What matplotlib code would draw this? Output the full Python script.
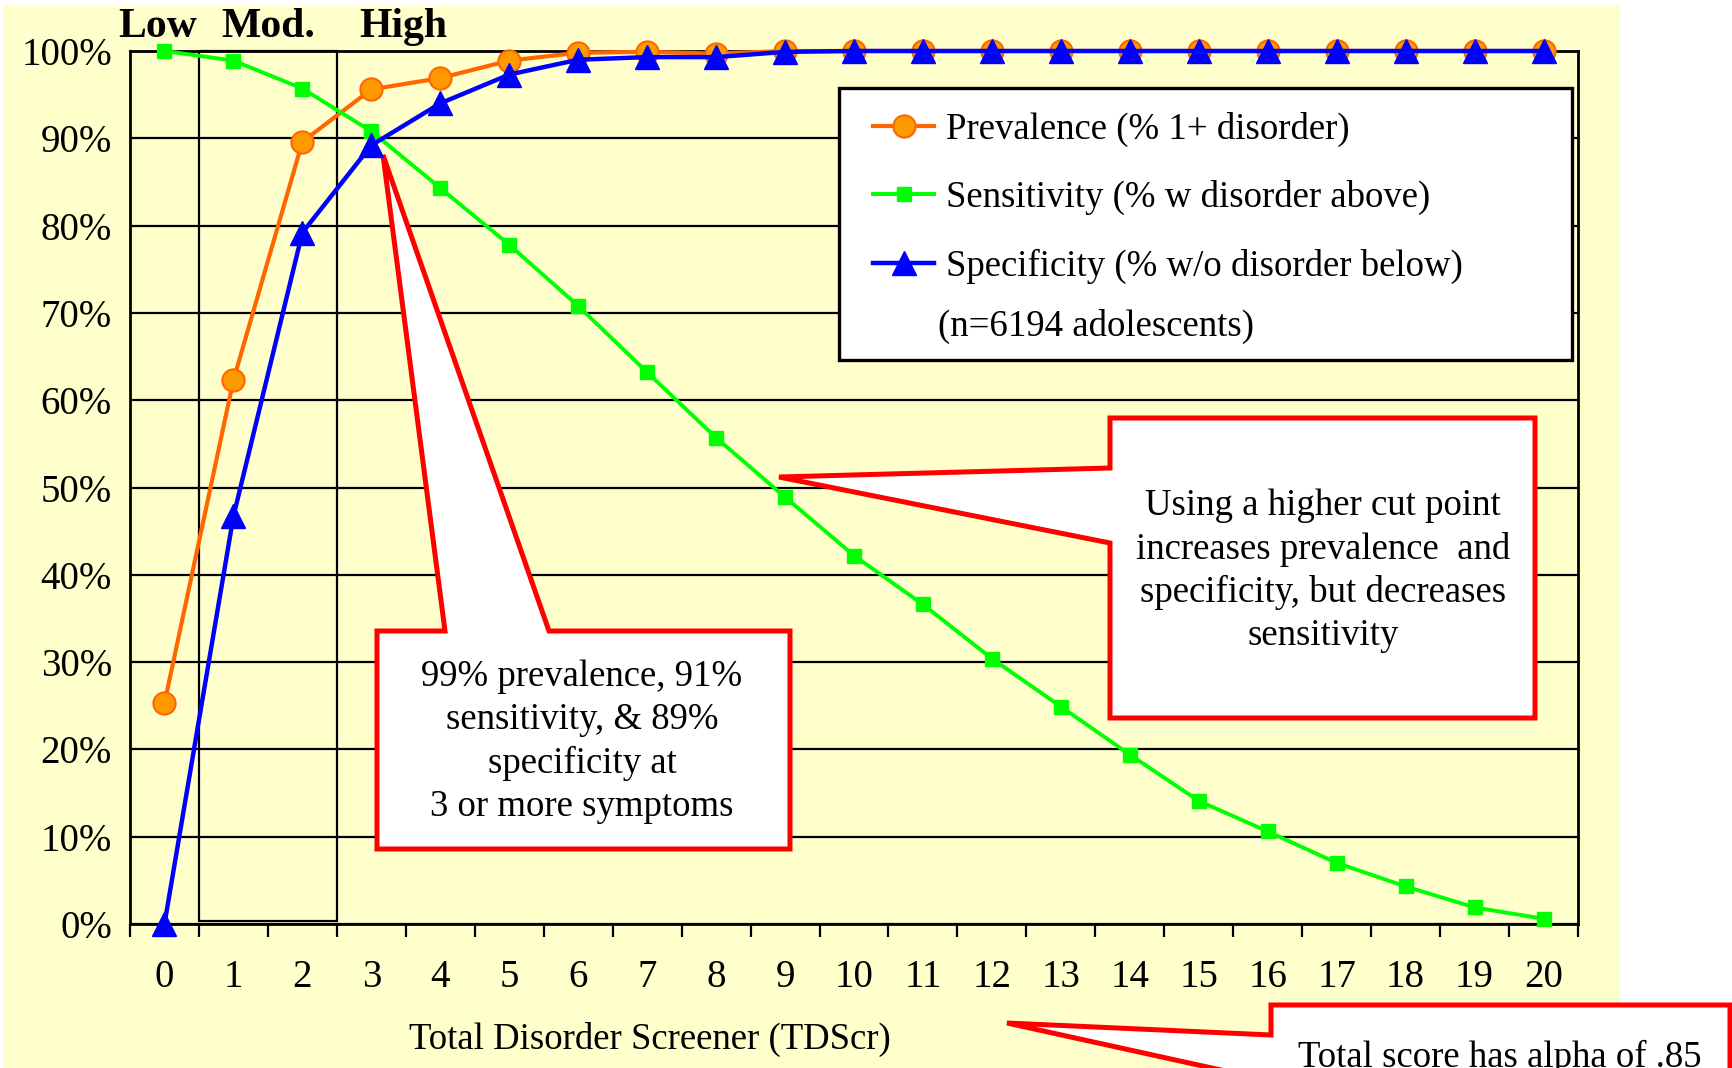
import matplotlib
matplotlib.use("Agg")
import matplotlib.pyplot as plt
from matplotlib.patches import Polygon, Rectangle

# ---------------- data ----------------
scores = list(range(0, 21))
prevalence = [25.3, 62.3, 89.6, 95.6, 96.9, 98.9, 99.8, 99.9, 99.7, 100, 100,
              100, 100, 100, 100, 100, 100, 100, 100, 100, 100]
sensitivity = [100, 98.9, 95.7, 90.8, 84.3, 77.8, 70.8, 63.2, 55.7, 48.9, 42.2,
               36.6, 30.4, 24.9, 19.4, 14.1, 10.6, 7.0, 4.3, 1.9, 0.6]
specificity = [0, 46.7, 79.2, 89.2, 94.0, 97.3, 99.0, 99.3, 99.3, 99.9, 100,
               100, 100, 100, 100, 100, 100, 100, 100, 100, 100]
y_ticks = [0, 10, 20, 30, 40, 50, 60, 70, 80, 90, 100]
y_tick_labels = [f"{v}%" for v in y_ticks]
x_tick_labels = [str(s) for s in scores]
series_labels = ["Prevalence (% 1+ disorder)",
                 "Sensitivity (% w disorder above)",
                 "Specificity (% w/o disorder below)"]
band_labels = ["Low", "Mod.", "High"]
sample_note = "(n=6194 adolescents)"
x_title = "Total Disorder Screener (TDScr)"
callout1 = "99% prevalence, 91%\nsensitivity, & 89%\nspecificity at\n3 or more symptoms"
callout2 = "Using a higher cut point\nincreases prevalence  and\nspecificity, but decreases\nsensitivity"
callout3 = "Total score has alpha of .85"

# ---------------- layout helpers ----------------
W, H = 1733, 1068
DPI = 100
SERIF = "Liberation Serif"
YELLOW = "#FFFFCC"


def fx(px):
    return px / W


def fy(py):
    return 1 - py / H


def pts(seq):
    return [(fx(a), fy(b)) for a, b in seq]


fig = plt.figure(figsize=(W / DPI, H / DPI), dpi=DPI, facecolor="white")
# yellow slide background
fig.patches.append(Rectangle((fx(3), fy(1068)), fx(1620) - fx(3), fy(5) - fy(1068),
                             transform=fig.transFigure, facecolor=YELLOW,
                             edgecolor="none", zorder=-10))

ax_l, ax_r, ax_t, ax_b = 130, 1578, 51, 924
ax = fig.add_axes([fx(ax_l), fy(ax_b), fx(ax_r) - fx(ax_l), fy(ax_t) - fy(ax_b)])
ax.set_facecolor(YELLOW)
ax.set_xlim(-0.5, 20.5)
ax.set_ylim(0, 100)
ax.set_axisbelow(True)

# horizontal grid
ax.yaxis.grid(True, color="black", linewidth=1.6)
ax.xaxis.grid(False)
for s in ax.spines.values():
    s.set_linewidth(2.0)
    s.set_color("black")

ax.set_yticks(y_ticks)
ax.set_yticklabels(y_tick_labels, fontfamily=SERIF, fontsize=28)
ax.tick_params(axis="y", length=0, pad=13)
ax.set_xticks(scores)
ax.set_xticklabels(x_tick_labels, fontfamily=SERIF, fontsize=28)
ax.set_xticks([s - 0.5 for s in scores] + [scores[-1] + 0.5], minor=True)
ax.tick_params(axis="x", which="major", length=0, pad=25)
ax.tick_params(axis="x", which="minor", length=9.5, width=1.6, direction="out")

# Low / Mod. / High box (scores 1-2)
ax.add_patch(Rectangle((0.5, 0.4), 2.0, 99.6, fill=False, edgecolor="black",
                       linewidth=1.6, zorder=1.2, clip_on=False))

# series
l_prev, = ax.plot(scores, prevalence, color="#FF6600", linewidth=3.0, marker="o",
                  markersize=16, markerfacecolor="#FF9900", markeredgecolor="#FF6600",
                  markeredgewidth=1.5, clip_on=False, zorder=3)
l_sens, = ax.plot(scores, sensitivity, color="#00FF00", linewidth=2.8, marker="s",
                  markersize=9.5, markerfacecolor="#00FF00", markeredgecolor="#00FF00",
                  clip_on=False, zorder=4)
l_spec, = ax.plot(scores, specificity, color="#0000FF", linewidth=3.2, marker="^",
                  markersize=17, markerfacecolor="#0000FF", markeredgecolor="#0000FF",
                  clip_on=False, zorder=5)

# callout shapes (figure pixel coordinates)
RED = "#FF0000"
shape1 = [(377, 631), (445, 631), (383, 155), (549, 631), (790, 631), (790, 849), (377, 849)]
shape2 = [(1110, 418), (1535, 418), (1535, 718), (1110, 718), (1110, 543), (779, 477), (1110, 468)]
shape3 = [(1271, 1005), (1730, 1005), (1730, 1130), (1271, 1130), (1271, 1081), (1007, 1023), (1271, 1035)]
for shp in (shape1, shape2):
    ax.add_patch(Polygon(pts(shp), closed=True, transform=fig.transFigure,
                         facecolor="white", edgecolor=RED, linewidth=3.6,
                         joinstyle="miter", clip_on=False, zorder=1.5))
fig.patches.append(Polygon(pts(shape3), closed=True, transform=fig.transFigure,
                           facecolor="white", edgecolor=RED, linewidth=3.6,
                           joinstyle="miter", zorder=1))

# legend frame + legend
ax.add_patch(Rectangle((fx(839), fy(360)), fx(1572) - fx(839), fy(88) - fy(360),
                       transform=fig.transFigure, facecolor="white", edgecolor="black",
                       linewidth=2.4, clip_on=False, zorder=1.5))
leg = ax.legend([l_prev, l_sens, l_spec], series_labels, loc="upper left",
                bbox_to_anchor=(fx(873), fy(112)), bbox_transform=fig.transFigure,
                frameon=False, borderpad=0, borderaxespad=0, handlelength=1.66,
                handletextpad=0.33, labelspacing=0.9,
                prop={"family": SERIF, "size": 26.5})
leg.set_zorder(10)
fig.text(fx(938), fy(326), sample_note, fontfamily=SERIF, fontsize=26.5,
         ha="left", va="center")

# band labels
for lab, cx in zip(band_labels, [158, 268, 403]):
    fig.text(fx(cx), fy(27), lab, fontfamily=SERIF, fontsize=30, fontweight="bold",
             ha="center", va="center")

# axis title
fig.text(fx(650), fy(1039), x_title, fontfamily=SERIF, fontsize=26.5,
         ha="center", va="center")

# callout texts
fig.text(fx(582), fy(742), callout1, fontfamily=SERIF, fontsize=26.5,
         ha="center", va="center", multialignment="center", linespacing=1.32)
fig.text(fx(1323), fy(571), callout2, fontfamily=SERIF, fontsize=26.5,
         ha="center", va="center", multialignment="center", linespacing=1.32)
fig.text(fx(1500), fy(1040), callout3, fontfamily=SERIF, fontsize=26.5,
         ha="center", va="top")

fig.savefig("out.png", dpi=DPI, facecolor="white")
